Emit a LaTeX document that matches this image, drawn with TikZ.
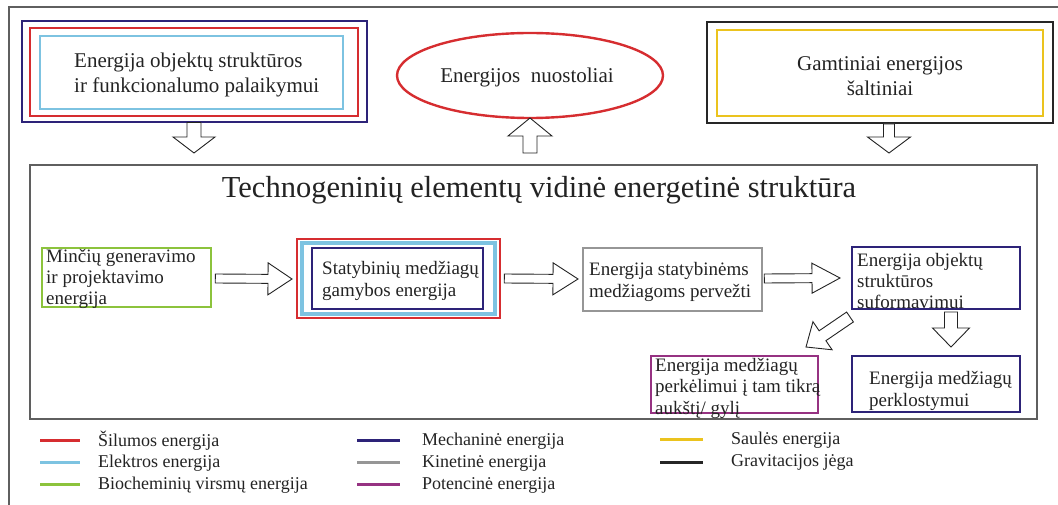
\documentclass[tikz,border=0pt]{standalone}
\usepackage{fontspec}
\setmainfont{Liberation Serif}
\usetikzlibrary{shapes.geometric,calc}
\definecolor{cred}{RGB}{214,45,48}
\definecolor{cblue}{RGB}{125,195,225}
\definecolor{cnavy}{RGB}{45,35,120}
\definecolor{cgreen}{RGB}{140,195,60}
\definecolor{cgray}{RGB}{150,150,150}
\definecolor{cpurple}{RGB}{150,50,130}
\definecolor{cyellow}{RGB}{235,195,30}
\definecolor{ctext}{RGB}{35,35,35}
\definecolor{cframe}{RGB}{95,95,95}
\newcommand\fatarrow[5]{%
  \coordinate (fa-hb) at ($(#2)!#5!(#1)$);
  \draw[fatarr] ($(#1)!#3!90:(#2)$) -- ($(fa-hb)!#3!90:(#2)$) -- ($(fa-hb)!#4!90:(#2)$) -- (#2)
    -- ($(fa-hb)!#4!-90:(#2)$) -- ($(fa-hb)!#3!-90:(#2)$) -- ($(#1)!#3!-90:(#2)$) -- cycle;}
\tikzset{
  box/.style={draw, rectangle, inner sep=0pt, line width=2.6pt},
  bigtxt/.style={inner sep=0pt, text=ctext, font=\fontsize{21}{25}\selectfont},
  txt/.style={align=left, anchor=west, inner sep=0pt, text=ctext, font=\fontsize{19}{21.5}\selectfont},
  fatarr/.style={draw=ctext, fill=white, line width=0.9pt, line join=miter},
  legline/.style={line width=3pt},
  legtxt/.style={anchor=west, inner sep=0pt, text=ctext, font=\fontsize{18}{21.5}\selectfont},
}
\begin{document}
\begin{tikzpicture}[x=1pt,y=-1pt]
\useasboundingbox (0,0) rectangle (1058,505);
% outer frame
\draw[cframe, line width=1.3pt] (9,505) -- (9,7) -- (1058,7);
% top-left
\node[box, draw=cnavy, minimum width=345pt, minimum height=101pt] (tlnavy) at (194.5,71.5) {};
\node[box, draw=cred, minimum width=328pt, minimum height=88pt] (tlred) at (194,72) {};
\node[box, draw=cblue, minimum width=303pt, minimum height=73pt] (tlblue) at (191.5,72.5) {};
\node[bigtxt, align=left, anchor=west] (tltxt) at (74,75) {Energija objektų struktūros\\ir funkcionalumo palaikymui};
% ellipse
\node[ellipse, draw=cred, line width=2.4pt, minimum width=266pt, minimum height=85pt, inner sep=0pt] (loss) at (530,75.5) {};
\node[bigtxt] (losstxt) at (527,77) {Energijos\ \ nuostoliai};
% top-right
\node[box, draw=black!85, line width=2.8pt, minimum width=346pt, minimum height=101pt] (trblack) at (880,72.5) {};
\node[box, draw=cyellow, minimum width=326pt, minimum height=86pt] (tryel) at (880,73) {};
\node[bigtxt, align=center] (trtxt) at (880,76) {Gamtiniai energijos\\šaltiniai};
% main box
\node[draw=cframe, line width=1.5pt, rectangle, inner sep=0pt, minimum width=1007pt, minimum height=254pt] (main) at (533.5,292) {};
\node[inner sep=0pt, text=ctext, font=\fontsize{30.5}{36}\selectfont] (title) at (539,190) {Technogeninių elementų vidinė energetinė struktūra};
% top arrows
\coordinate (a1s) at (194,122.5);
\coordinate (a1e) at (194,153);
\fatarrow{a1s}{a1e}{7pt}{21pt}{16pt}
\coordinate (a2s) at (530,153);
\coordinate (a2e) at (530,118);
\fatarrow{a2s}{a2e}{7pt}{22pt}{18pt}
\coordinate (a3s) at (889,124);
\coordinate (a3e) at (889,153);
\fatarrow{a3s}{a3e}{5.5pt}{21.5pt}{16pt}
% middle row
\node[box, draw=cgreen, minimum width=169pt, minimum height=59pt] (green) at (126.5,277.5) {};
\node[txt, font=\fontsize{19}{21}\selectfont] (greentxt) at (46,279) {Minčių generavimo\\ir projektavimo\\energija};
\node[box, draw=cred, minimum width=203pt, minimum height=79pt] (mred) at (398.5,278.5) {};
\node[box, draw=cblue, line width=3.4pt, minimum width=193pt, minimum height=71pt] (mblue) at (398.5,278.5) {};
\node[box, draw=cnavy, minimum width=171pt, minimum height=61pt] (mnavy) at (397.5,278.5) {};
\node[txt] (mtxt) at (322,281) {Statybinių medžiagų\\gamybos energija};
\node[box, draw=cgray, minimum width=179pt, minimum height=63pt] (gray) at (672.5,279.5) {};
\node[txt] (graytxt) at (589,282) {Energija statybinėms\\medžiagoms pervežti};
\node[box, draw=cnavy, minimum width=168pt, minimum height=62pt] (rnavy) at (936,278) {};
\node[txt, font=\fontsize{19}{21}\selectfont] (rnavytxt) at (857,281) {Energija objektų\\struktūros\\suformavimui};
% middle arrows
\coordinate (a4s) at ($(green.east)+(3,1)$);
\coordinate (a4e) at (292,279);
\fatarrow{a4s}{a4e}{4.5pt}{16pt}{24pt}
\coordinate (a5s) at ($(mred.east)+(3,0)$);
\coordinate (a5e) at (578,279);
\fatarrow{a5s}{a5e}{4.5pt}{16pt}{25pt}
\coordinate (a6s) at ($(gray.east)+(1,-1)$);
\coordinate (a6e) at (840,278);
\fatarrow{a6s}{a6e}{4.5pt}{15pt}{28pt}
% bottom row
\node[box, draw=cpurple, minimum width=167pt, minimum height=57pt] (purple) at (734.5,384.5) {};
\node[txt, font=\fontsize{19}{21.5}\selectfont] (purpletxt) at (655,388) {Energija medžiagų\\perkėlimui į tam tikrą\\aukštį/ gylį};
\node[box, draw=cnavy, minimum width=168pt, minimum height=56pt] (bnavy) at (936,384) {};
\node[txt] (bnavytxt) at (869,391) {Energija medžiagų\\perklostymui};
\coordinate (a7s) at (850,317);
\coordinate (a7e) at (806,347);
\fatarrow{a7s}{a7e}{6pt}{17pt}{20pt}
\coordinate (a8s) at (951,312);
\coordinate (a8e) at (951,347);
\fatarrow{a8s}{a8e}{6.5pt}{18.5pt}{19pt}
% legend
\draw[legline, cred] (40,440) -- (80,440);
\draw[legline, cblue] (40,462) -- (80,462);
\draw[legline, cgreen] (40,484) -- (80,484);
\node[legtxt] (l1) at (98,441) {Šilumos energija};
\node[legtxt] (l2) at (98,463) {Elektros energija};
\node[legtxt] (l3) at (98,485) {Biocheminių virsmų energija};
\draw[legline, cnavy] (357,440) -- (400,440);
\draw[legline, cgray] (357,462) -- (400,462);
\draw[legline, cpurple] (357,484) -- (400,484);
\node[legtxt] (l4) at (422,441) {Mechaninė energija};
\node[legtxt] (l5) at (422,463) {Kinetinė energija};
\node[legtxt] (l6) at (422,485) {Potencinė energija};
\draw[legline, cyellow] (660,439) -- (703,439);
\draw[legline, black!85] (660,462) -- (703,462);
\node[legtxt] (l7) at (731,440) {Saulės energija};
\node[legtxt] (l8) at (731,462) {Gravitacijos jėga};
\end{tikzpicture}
\end{document}
